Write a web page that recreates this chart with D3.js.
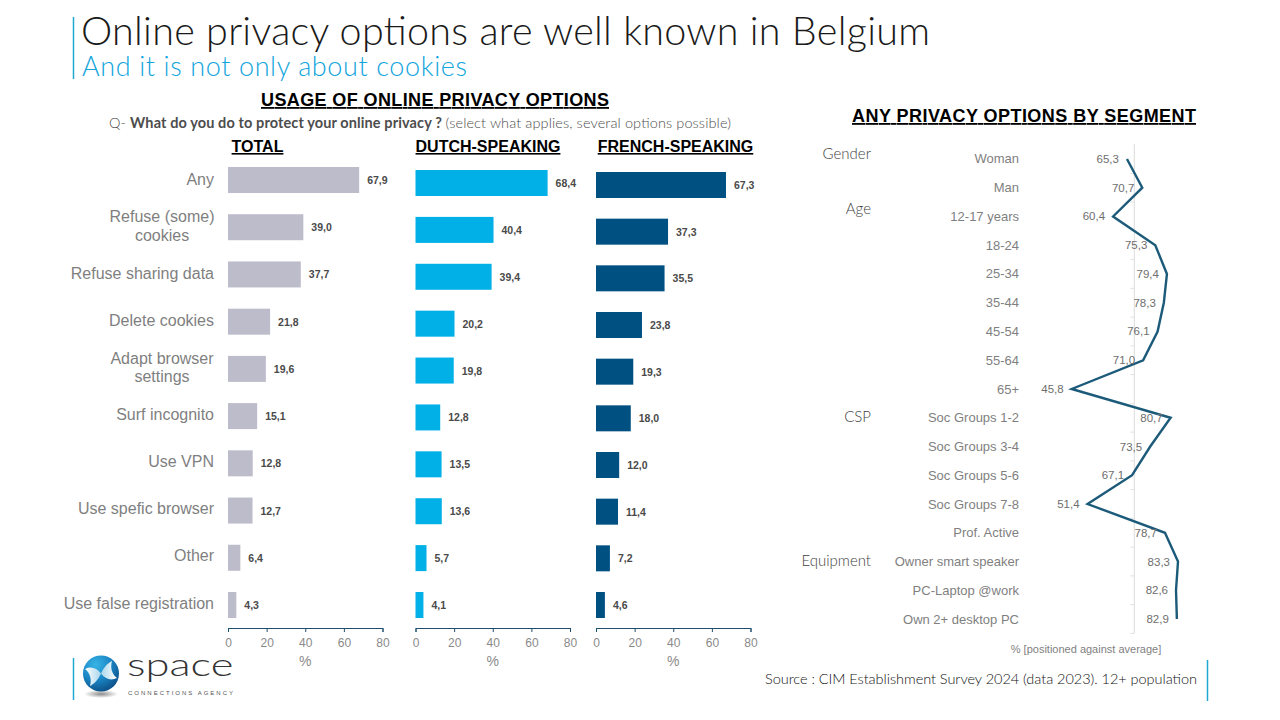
<!DOCTYPE html>
<html>
<head>
<meta charset="utf-8">
<script src="https://cdn.jsdelivr.net/npm/d3@7"></script>
<style>
  html, body { margin: 0; background: #fff; }
  svg { display: block; }
  text { font-family: "Liberation Sans", Arial, sans-serif; }
  .thin { font-family: Lato, "Open Sans", sans-serif; font-weight: 300; }
  .head { font-weight: bold; text-decoration: underline; fill: #000; }
</style>
</head>
<body>
<svg id="chart" width="1280" height="720"></svg>
<script>
const categories = ["Any", "Refuse (some)\ncookies", "Refuse sharing data", "Delete cookies", "Adapt browser\nsettings",
  "Surf incognito", "Use VPN", "Use spefic browser", "Other", "Use false registration"];
const totalValues = [67.9, 39.0, 37.7, 21.8, 19.6, 15.1, 12.8, 12.7, 6.4, 4.3];
const dutchValues = [68.4, 40.4, 39.4, 20.2, 19.8, 12.8, 13.5, 13.6, 5.7, 4.1];
const frenchValues = [67.3, 37.3, 35.5, 23.8, 19.3, 18.0, 12.0, 11.4, 7.2, 4.6];
const xTicks = [0, 20, 40, 60, 80];

const segments = ["Woman", "Man", "12-17 years", "18-24", "25-34", "35-44", "45-54", "55-64", "65+",
  "Soc Groups 1-2", "Soc Groups 3-4", "Soc Groups 5-6", "Soc Groups 7-8", "Prof. Active",
  "Owner smart speaker", "PC-Laptop @work", "Own 2+ desktop PC"];
const segmentValues = [65.3, 70.7, 60.4, 75.3, 79.4, 78.3, 76.1, 71.0, 45.8, 80.7, 73.5, 67.1, 51.4, 78.7, 83.3, 82.6, 82.9];
const segmentAverage = 67.9;
const groupNames = ["Gender", "Age", "CSP", "Equipment"];

const svg = d3.select("#chart");
const comma = d3.formatLocale({ decimal: ",", thousands: ".", grouping: [3], currency: ["", ""] }).format(".1f");

function put(txt, x, y, size, fill, anchor, cls) {
  return svg.append("text").attr("x", x).attr("y", y).attr("font-size", size)
    .attr("fill", fill).attr("text-anchor", anchor || "start").attr("class", cls || null).text(txt);
}

// title block
svg.append("line").attr("x1", 73.5).attr("x2", 73.5).attr("y1", 17).attr("y2", 79).attr("stroke", "#1fa9d0").attr("stroke-width", 1.5);
put("Online privacy options are well known in Belgium", 81, 45, 39.5, "#1a1a1a", "start", "thin").attr("textLength", 849);
put("And it is not only about cookies", 82, 76, 27, "#12a5dc", "start", "thin").attr("textLength", 385);

// headers
put("USAGE OF ONLINE PRIVACY OPTIONS", 435, 106, 18, "#000", "middle", "head").attr("textLength", 348);
const q = put("", 109, 128, 14.5, "#4d4d4d", "start", "thin").attr("textLength", 622);
q.append("tspan").text("Q- ");
q.append("tspan").attr("font-weight", 700).text("What do you do to protect your online privacy ? ");
q.append("tspan").text("(select what applies, several options possible)");
put("ANY PRIVACY OPTIONS BY SEGMENT", 1024, 122, 18, "#000", "middle", "head").attr("textLength", 344);

// bar panels
const panels = [
  { title: "TOTAL", titleX: 257.5, values: totalValues, color: "#bdbccb", x0: 228, top: 180 },
  { title: "DUTCH-SPEAKING", titleX: 488, values: dutchValues, color: "#00b0e6", x0: 415.5, top: 183 },
  { title: "FRENCH-SPEAKING", titleX: 675.5, values: frenchValues, color: "#005082", x0: 596, top: 185 }
];

panels.forEach(p => {
  const x = d3.scaleLinear().domain([0, 80]).range([p.x0, p.x0 + 154.5]);
  const y = d3.scalePoint().domain(categories).range([p.top, 605]);
  const g = svg.append("g");

  put(p.title, p.titleX, 152, 16, "#000", "middle", "head");

  g.selectAll("rect").data(p.values).join("rect")
    .attr("x", x(0))
    .attr("y", (d, i) => y(categories[i]) - 13)
    .attr("width", d => x(d) - x(0))
    .attr("height", 26)
    .attr("fill", p.color);

  g.selectAll("text.val").data(p.values).join("text")
    .attr("class", "val")
    .attr("x", d => x(d) + 8)
    .attr("y", (d, i) => y(categories[i]) + 4)
    .attr("font-size", 10.5)
    .attr("font-weight", "bold")
    .attr("fill", "#4a4a4a")
    .text(d => comma(d));

  const axis = svg.append("g").attr("transform", "translate(0,628)")
    .call(d3.axisBottom(x).tickValues(xTicks).tickSize(4).tickPadding(6.5));
  axis.selectAll("path, line").attr("stroke", "#1f4f6e");
  axis.selectAll("text").attr("font-size", 12).attr("fill", "#8a8a8a")
    .style("font-family", '"Liberation Sans", Arial, sans-serif');
  put("%", x(40), 666, 14, "#8a8a8a", "middle");
});

// category labels
const yCat = d3.scalePoint().domain(categories).range([179, 603]);
categories.forEach(c => {
  const lines = c.split("\n");
  const wrapped = lines.length > 1;
  lines.forEach((l, i) => {
    put(l, wrapped ? 162 : 214, yCat(c) + 5.5 + (i - (lines.length - 1) / 2) * 18.5, 16, "#7f7f7f", wrapped ? "middle" : "end");
  });
});

// segment line panel
const xSeg = d3.scaleLinear().domain([45.8, 83.3]).range([1071.7, 1178]);
const ySeg = d3.scaleBand().domain(segments).range([144.6, 633.4]);
const rowY = s => ySeg(s) + ySeg.bandwidth() / 2;

svg.append("line").attr("x1", xSeg(segmentAverage)).attr("x2", xSeg(segmentAverage))
  .attr("y1", 144).attr("y2", 633).attr("stroke", "#e2e2e2").attr("stroke-width", 1.2);
svg.selectAll("line.tick-seg").data(segments).join("line")
  .attr("class", "tick-seg")
  .attr("x1", xSeg(segmentAverage) - 4).attr("x2", xSeg(segmentAverage))
  .attr("y1", s => ySeg(s) + ySeg.step()).attr("y2", s => ySeg(s) + ySeg.step())
  .attr("stroke", "#e2e2e2");

const line = d3.line().x((d, i) => xSeg(d)).y((d, i) => rowY(segments[i]));
svg.append("path").attr("d", line(segmentValues)).attr("fill", "none")
  .attr("stroke", "#1c5a7a").attr("stroke-width", 2.4).attr("stroke-linejoin", "miter");

segments.forEach((s, i) => {
  put(s, 1019, rowY(s) + 4.5, 13, "#7f7f7f", "end");
  put(comma(segmentValues[i]), xSeg(segmentValues[i]) - 8, rowY(s) + 4, 11.5, "#6e6e6e", "end");
});

const groupY = { Gender: 159, Age: 214, CSP: 422, Equipment: 566 };
groupNames.forEach(g => put(g, 871, groupY[g], 15, "#3f3f3f", "end", "thin"));

put("% [positioned against average]", 1086, 653, 11, "#7f7f7f", "middle");

// footer
put("Source : CIM Establishment Survey 2024 (data 2023). 12+ population", 765, 684, 14.5, "#111", "start", "thin").attr("textLength", 432);
svg.append("line").attr("x1", 1207.5).attr("x2", 1207.5).attr("y1", 660).attr("y2", 701).attr("stroke", "#1fa9d0").attr("stroke-width", 1.5);
svg.append("line").attr("x1", 73.5).attr("x2", 73.5).attr("y1", 658).attr("y2", 700).attr("stroke", "#1fa9d0").attr("stroke-width", 1.5);

// logo
const defs = svg.append("defs");
const grad = defs.append("radialGradient").attr("id", "ball").attr("cx", "35%").attr("cy", "25%").attr("r", "85%");
[["0%", "#38b4e6"], ["50%", "#1a86c4"], ["100%", "#0a467c"]].forEach(s => grad.append("stop").attr("offset", s[0]).attr("stop-color", s[1]));
const shade = defs.append("radialGradient").attr("id", "shadow");
[["0%", "#8c8c8c"], ["100%", "#ffffff"]].forEach(s => shade.append("stop").attr("offset", s[0]).attr("stop-color", s[1]));
const blade = defs.append("linearGradient").attr("id", "blade");
[["0%", "#ffffff"], ["100%", "#a9d6ec"]].forEach(s => blade.append("stop").attr("offset", s[0]).attr("stop-color", s[1]));
const logo = svg.append("g");
logo.append("ellipse").attr("cx", 101).attr("cy", 694).attr("rx", 17).attr("ry", 4).attr("fill", "url(#shadow)");
logo.append("circle").attr("cx", 101).attr("cy", 673.5).attr("r", 18).attr("fill", "url(#ball)");
const bladePath = "M85 669 C91 666 97 668 101 673.5 C98 680 94 684 90 686 C92 679 90 673 85 669Z";
logo.append("path").attr("d", bladePath).attr("fill", "url(#blade)");
logo.append("path").attr("d", bladePath).attr("fill", "url(#blade)").attr("transform", "rotate(180 101 673.5)");
put("space", 0, 0, 32, "#333", "start", "thin").attr("transform", "translate(127,676) scale(1.36,1)");
put("CONNECTIONS AGENCY", 128, 695, 6, "#555").attr("textLength", 105);
</script>
</body>
</html>
